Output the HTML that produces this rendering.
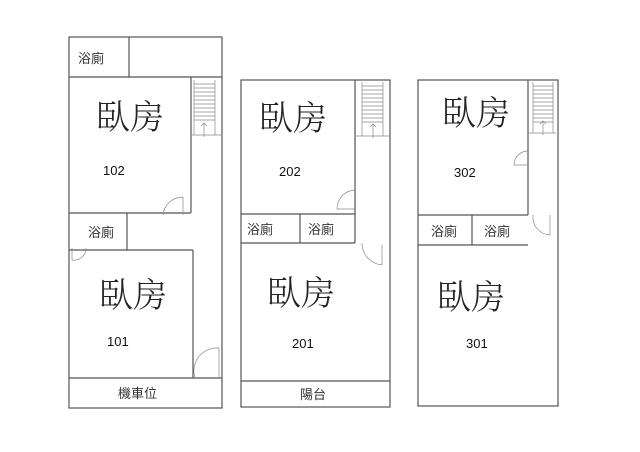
<!DOCTYPE html>
<html><head><meta charset="utf-8"><style>
html,body{margin:0;padding:0;background:#fff;width:640px;height:452px;overflow:hidden}
svg{display:block}
.w{stroke:#555;stroke-width:1.2;fill:none}
.t{stroke:#888;stroke-width:0.7;fill:none}
.big{font-family:"Noto Serif CJK SC","Noto Sans CJK SC",serif;font-size:34px;font-weight:300;fill:#222}
.sm{font-family:"Liberation Sans","Noto Sans CJK TC",sans-serif;font-size:13px;fill:#333}
.num{font-family:"Liberation Sans",sans-serif;font-size:13px;fill:#111}
</style></head><body>
<svg width="640" height="452" viewBox="0 0 640 452">
<!-- Plan 1 -->
<rect class="w" x="69" y="37" width="153" height="371"/>
<line class="w" x1="69" y1="77" x2="222" y2="77"/>
<line class="w" x1="129" y1="37" x2="129" y2="77"/>
<line class="w" x1="191" y1="77" x2="191" y2="213"/>
<line class="w" x1="69" y1="213" x2="191" y2="213"/>
<line class="w" x1="127" y1="213" x2="127" y2="250"/>
<line class="w" x1="69" y1="250" x2="193" y2="250"/>
<line class="w" x1="193" y1="250" x2="193" y2="378"/>
<line class="w" x1="69" y1="378" x2="222" y2="378"/>
<g class="t">
<line x1="194" y1="80" x2="194" y2="135"/><line x1="215" y1="80" x2="215" y2="135"/>
<line x1="191" y1="135" x2="221" y2="135"/>
<path d="M194 84h21M194 88h21M194 92h21M194 96h21M194 100h21M194 104h21M194 108h21M194 112h21M194 116h21M194 120h21"/>
<path d="M204 137v-14M201 126l3-3 3 3"/>
<path d="M183 197v18M183 197a20 20 0 0 0 -20 18"/>
<path d="M72 248v12a12 12 0 0 0 14 -12"/>
<path d="M219 348v30M219 348a23 23 0 0 0 -24 30"/>
</g>
<text class="sm" x="78" y="63">浴廁</text>
<text class="big" x="96" y="129">臥房</text>
<text class="num" x="103" y="175">102</text>
<text class="sm" x="88" y="237">浴廁</text>
<text class="big" x="99" y="307">臥房</text>
<text class="num" x="107" y="346">101</text>
<text class="sm" x="118" y="398">機車位</text>

<!-- Plan 2 -->
<rect class="w" x="241" y="80" width="149" height="327"/>
<line class="w" x1="355" y1="80" x2="355" y2="214"/>
<line class="w" x1="241" y1="214" x2="355" y2="214"/>
<line class="w" x1="241" y1="243" x2="355" y2="243"/>
<line class="w" x1="300" y1="214" x2="300" y2="243"/>
<line class="w" x1="355" y1="214" x2="355" y2="243"/>
<line class="w" x1="241" y1="381" x2="390" y2="381"/>
<g class="t">
<line x1="362" y1="82" x2="362" y2="136"/><line x1="383" y1="82" x2="383" y2="136"/>
<line x1="355" y1="136" x2="390" y2="136"/>
<path d="M362 86h21M362 90h21M362 94h21M362 98h21M362 102h21M362 106h21M362 110h21M362 114h21M362 118h21M362 122h21"/>
<path d="M373 138v-14M370 127l3-3 3 3"/>
<path d="M337 209h18M355 190a19 19 0 0 0 -18 19"/>
<path d="M382 245v20M382 265a22 22 0 0 1 -20 -22"/>
</g>
<text class="big" x="259" y="130">臥房</text>
<text class="num" x="279" y="176">202</text>
<text class="sm" x="247" y="234">浴廁</text>
<text class="sm" x="308" y="234">浴廁</text>
<text class="big" x="267" y="305">臥房</text>
<text class="num" x="292" y="348">201</text>
<text class="sm" x="300" y="399">陽台</text>

<!-- Plan 3 -->
<rect class="w" x="418" y="80" width="140" height="326"/>
<line class="w" x1="528" y1="80" x2="528" y2="215"/>
<line class="w" x1="418" y1="215" x2="528" y2="215"/>
<line class="w" x1="418" y1="245" x2="528" y2="245"/>
<line class="w" x1="472" y1="215" x2="472" y2="245"/>
<g class="t">
<line x1="533" y1="82" x2="533" y2="133"/><line x1="553" y1="82" x2="553" y2="133"/>
<line x1="528" y1="133" x2="556" y2="133"/>
<path d="M533 86h20M533 90h20M533 94h20M533 98h20M533 102h20M533 106h20M533 110h20M533 114h20M533 118h20M533 122h20"/>
<path d="M543 135v-14M540 124l3-3 3 3"/>
<path d="M528 151a14 14 0 0 0 -14 14h14"/>
<path d="M550 215v20M550 235a18 18 0 0 1 -17 -20"/>
</g>
<text class="big" x="442" y="125">臥房</text>
<text class="num" x="454" y="177">302</text>
<text class="sm" x="431" y="236">浴廁</text>
<text class="sm" x="484" y="236">浴廁</text>
<text class="big" x="437" y="309">臥房</text>
<text class="num" x="466" y="348">301</text>
</svg>
</body></html>
